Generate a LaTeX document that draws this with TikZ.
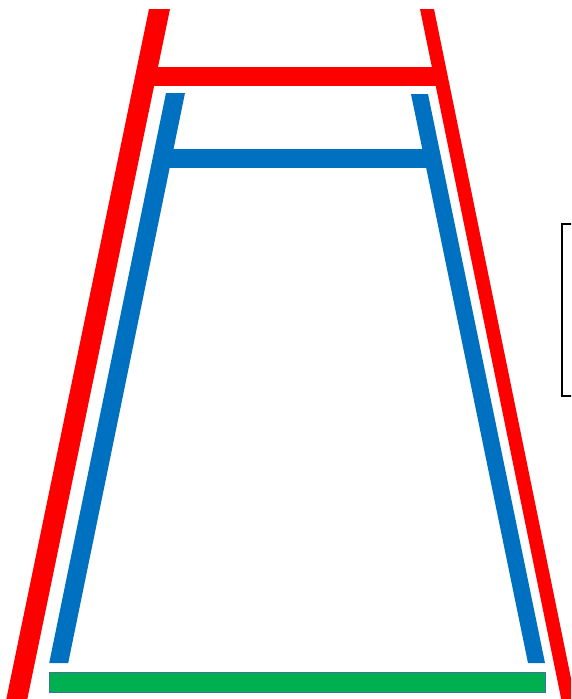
\documentclass[tikz,border=0pt]{standalone}
\definecolor{legred}{HTML}{FF0000}
\definecolor{legblue}{HTML}{0070C0}
\definecolor{basegreen}{HTML}{00B050}
\definecolor{baseedge}{HTML}{41719C}
\tikzset{
  redpart/.style={fill=legred, draw=none},
  bluepart/.style={fill=legblue, draw=none},
  basepart/.style={fill=basegreen, draw=baseedge, line width=1.5pt},
  framepart/.style={draw=black, line width=1.2pt}
}
\begin{document}
\begin{tikzpicture}[x=1pt,y=-1pt]
\useasboundingbox (0,0) rectangle (571,699);
\clip (0,0) rectangle (571,699);
% red outer frame
\fill[redpart] (149,9) -- (170,9) -- (23,720) -- (2,720) -- cycle;
\fill[redpart] (420,9) -- (434,9) -- (579.5,720) -- (565.5,720) -- cycle;
\fill[redpart] (150,67) rectangle (440,86);
% blue inner frame
\fill[bluepart] (166,93) -- (185,93) -- (68.2,663) -- (49.2,663) -- cycle;
\fill[bluepart] (411,94) -- (428,94) -- (545,663) -- (528,663) -- cycle;
\fill[bluepart] (165,149) rectangle (430,168);
% green base
\filldraw[basepart] (49.5,672.5) rectangle (545.5,692.5);
% partial box at right
\draw[framepart] (600,224) -- (562,224) -- (562,396) -- (600,396);
\end{tikzpicture}
\end{document}
